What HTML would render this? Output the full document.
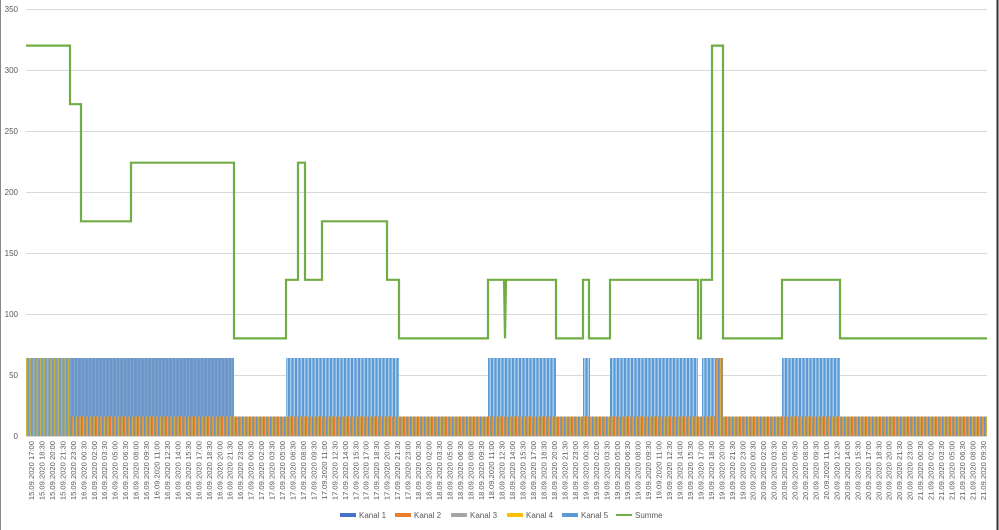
<!DOCTYPE html>
<html><head><meta charset="utf-8"><style>
html,body{margin:0;padding:0;background:#fff;}
svg{display:block;font-family:"Liberation Sans",sans-serif;}
</style></head><body>
<svg id="s" width="999" height="530" viewBox="0 0 999 530">
<defs>
<pattern id="pb" x="26" y="0" width="3.5" height="10" patternUnits="userSpaceOnUse">
<rect width="3.5" height="10" fill="#6b8fc0"/>
<rect x="0" width="1.1" height="10" fill="#ed7d31"/>
<rect x="1.1" width="1.2" height="10" fill="#d9b430"/>
</pattern>
<pattern id="pt" x="26" y="0" width="3.5" height="10" patternUnits="userSpaceOnUse">
<rect width="3.5" height="10" fill="#5b9bd5"/>
<rect x="1.5" width="1.5" height="10" fill="#a9cbec"/>
</pattern>
<pattern id="pd" x="26" y="0" width="3.5" height="10" patternUnits="userSpaceOnUse">
<rect width="3.5" height="10" fill="#6a97c8"/>
<rect x="2.4" width="0.8" height="10" fill="#87acd4"/>
</pattern>
<pattern id="py" x="26" y="0" width="3.5" height="10" patternUnits="userSpaceOnUse">
<rect width="3.5" height="10" fill="#7b9cc0"/>
<rect x="0" width="1.3" height="10" fill="#c9b33a"/>
</pattern>
</defs>
<rect x="0" y="0" width="999" height="530" fill="#fff"/>
<line x1="0.5" y1="0" x2="0.5" y2="530" stroke="#888" stroke-width="1"/>
<line x1="997.5" y1="0" x2="997.5" y2="530" stroke="#333" stroke-width="2"/>
<g id="grid" stroke="#d9d9d9" stroke-width="1"></g>
<g id="ylab" font-size="8" fill="#595959" text-anchor="end"></g>
<!-- bars -->
<rect x="26" y="416.5" width="961" height="19.5" fill="url(#pb)"/>
<rect x="26" y="358" width="44" height="78" fill="url(#py)"/>
<rect x="70" y="358" width="164" height="58.5" fill="url(#pd)"/>
<rect x="286" y="358" width="113" height="58.5" fill="url(#pt)"/>
<rect x="488" y="358" width="68" height="58.5" fill="url(#pt)"/>
<rect x="583" y="358" width="7" height="58.5" fill="url(#pt)"/>
<rect x="610" y="358" width="88" height="58.5" fill="url(#pt)"/>
<rect x="702" y="358" width="13" height="58.5" fill="url(#pt)"/>
<rect x="715" y="358" width="8" height="78" fill="url(#pb)"/>
<rect x="782" y="358" width="58" height="58.5" fill="url(#pt)"/>
<line x1="26" y1="436.5" x2="987" y2="436.5" stroke="#d9d9d9"/>
<polyline fill="none" stroke="#70ad47" stroke-width="2.2" stroke-linejoin="miter" points="
26,45.6 70,45.6 70,104.2 81,104.2 81,221.3 131,221.3 131,162.7 234,162.7 234,338.4 286,338.4 286,279.8 298,279.8 298,162.7 305,162.7 305,279.8 322,279.8 322,221.3 387,221.3 387,279.8 399,279.8 399,338.4 488,338.4 488,279.8 504,279.8 505,338.4 506,279.8 556,279.8 556,338.4 583,338.4 583,279.8 589,279.8 589,338.4 610,338.4 610,279.8 698,279.8 698,338.4 701,338.4 701,279.8 712,279.8 712,45.6 723,45.6 723,338.4 782,338.4 782,279.8 840,279.8 840,338.4 987,338.4"/>
<g id="xlab" font-size="7.6" fill="#595959" text-anchor="end"></g>
<g font-size="8" fill="#595959">
<rect x="340" y="513" width="16" height="4" fill="#4472c4"/><text x="359" y="518">Kanal 1</text>
<rect x="395" y="513" width="16" height="4" fill="#ed7d31"/><text x="414" y="518">Kanal 2</text>
<rect x="451" y="513" width="16" height="4" fill="#a5a5a5"/><text x="470" y="518">Kanal 3</text>
<rect x="507" y="513" width="16" height="4" fill="#ffc000"/><text x="526" y="518">Kanal 4</text>
<rect x="562" y="513" width="16" height="4" fill="#5b9bd5"/><text x="581" y="518">Kanal 5</text>
<rect x="616" y="514" width="16" height="2" fill="#70ad47"/><text x="635" y="518">Summe</text>
</g>
</svg>
<script>
var ns="http://www.w3.org/2000/svg";
function el(t,a,p,txt){var e=document.createElementNS(ns,t);for(var k in a)e.setAttribute(k,a[k]);if(txt)e.textContent=txt;document.getElementById(p).appendChild(e);}
for(var v=50;v<=350;v+=50){var y=436-1.22*v;el("line",{x1:26,x2:987,y1:y+0.5,y2:y+0.5},"grid");}
for(var v=0;v<=350;v+=50){var y=436-1.22*v;el("text",{x:18,y:y+3},"ylab",String(v));}
var d=new Date(Date.UTC(2020,8,15,17,0));
function p(n){return (n<10?"0":"")+n;}
for(var i=0;i<92;i++){var t=new Date(d.getTime()+i*90*60000);
var s=p(t.getUTCDate())+".09.2020 "+p(t.getUTCHours())+":"+p(t.getUTCMinutes());
var x=31+i*10.46;
el("text",{x:0,y:0,transform:"translate("+(x+3)+",441) rotate(-90)"},"xlab",s);}
</script>
</body></html>
